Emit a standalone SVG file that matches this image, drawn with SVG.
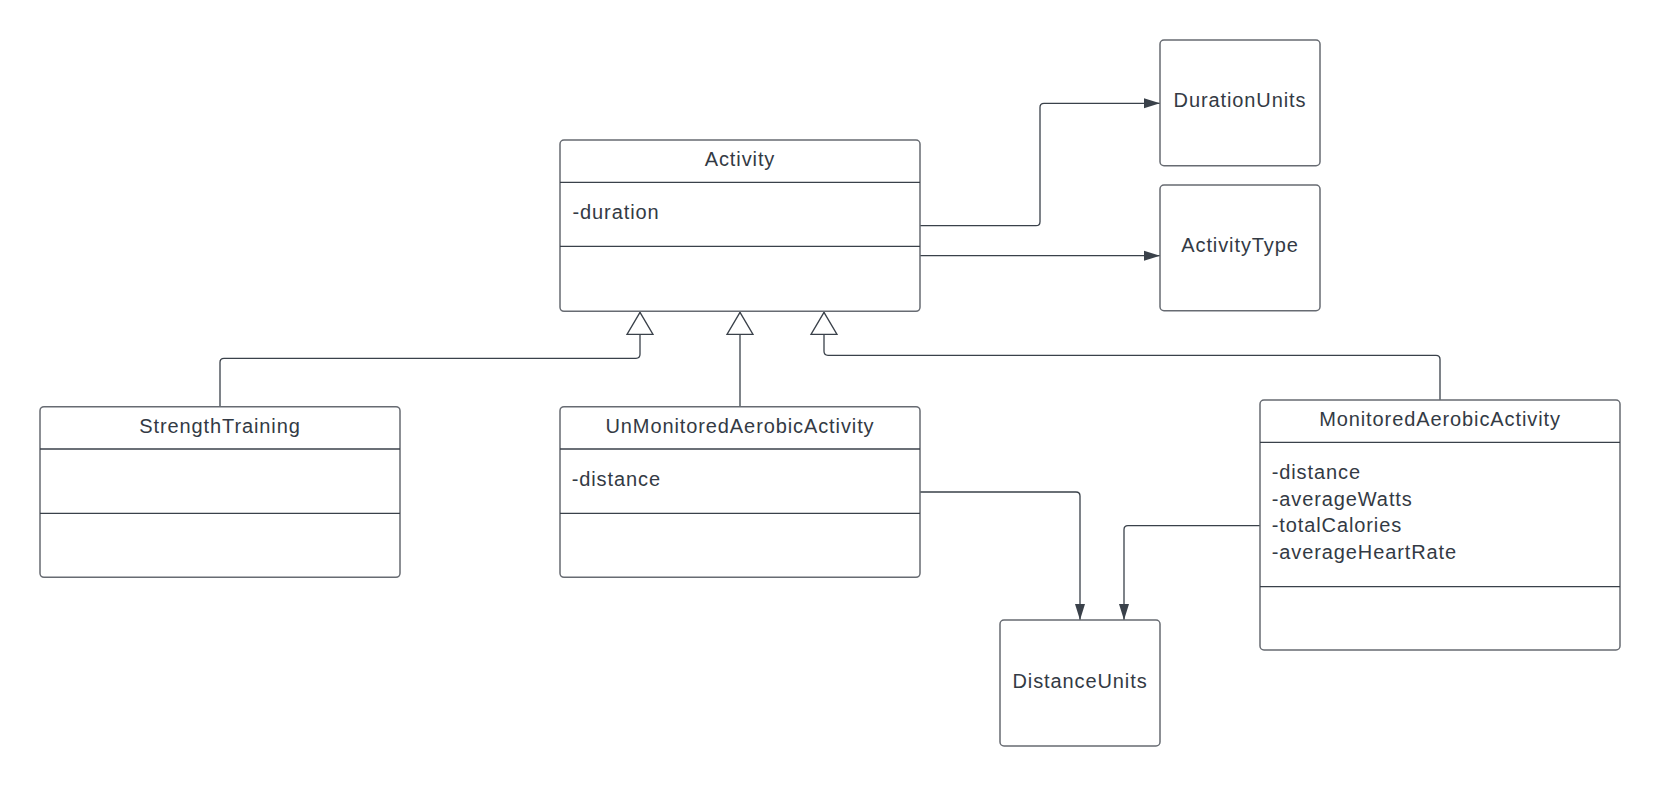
<svg xmlns="http://www.w3.org/2000/svg" width="1660" height="786" viewBox="0 0 1660 786">
<style>
.box{fill:#ffffff;stroke:#676b72;stroke-width:1.5}
.div{stroke:#3a414a;stroke-width:1.3}
.t{font-family:"Liberation Sans",Arial,sans-serif;font-size:20px;fill:#333a44;letter-spacing:0.9px}
.c{text-anchor:middle}
.con{fill:none;stroke:#3a414a;stroke-width:1.3}
</style>
<defs>
<marker id="gen" viewBox="0 0 22 26" refX="22" refY="13" markerWidth="22" markerHeight="26" markerUnits="userSpaceOnUse" orient="auto" overflow="visible">
<path d="M0,0 L22,13 L0,26 Z" fill="#ffffff" stroke="#3a414a" stroke-width="1.3"/>
</marker>
<marker id="arr" viewBox="0 0 16 10" refX="16" refY="5" markerWidth="16" markerHeight="10" markerUnits="userSpaceOnUse" orient="auto" overflow="visible">
<path d="M0,0 L16,5 L0,10 Z" fill="#3a414a"/>
</marker>
</defs>
<rect width="1660" height="786" fill="#ffffff"/>
<g id="connectors">
<path class="con" d="M920,225.7 H1036 Q1040,225.7 1040,221.7 V107.3 Q1040,103.3 1044,103.3 H1160" marker-end="url(#arr)"/>
<path class="con" d="M920,255.7 H1160" marker-end="url(#arr)"/>
<path class="con" d="M920,492 H1076 Q1080,492 1080,496 V620" marker-end="url(#arr)"/>
<path class="con" d="M1260,525.7 H1128 Q1124,525.7 1124,529.7 V620" marker-end="url(#arr)"/>
<path class="con" d="M220,406.7 V362.3 Q220,358.3 224,358.3 H636 Q640,358.3 640,354.3 V312.3" marker-end="url(#gen)"/>
<path class="con" d="M740,406.7 V312.3" marker-end="url(#gen)"/>
<path class="con" d="M1440,400 V359.3 Q1440,355.3 1436,355.3 H828 Q824,355.3 824,351.3 V312.3" marker-end="url(#gen)"/>
</g>
<g id="activity">
<rect class="box" x="560" y="140" width="360" height="171.3" rx="4"/>
<line class="div" x1="560" y1="182.3" x2="920" y2="182.3"/>
<line class="div" x1="560" y1="246.3" x2="920" y2="246.3"/>
<text class="t c" x="740" y="166">Activity</text>
<text class="t" x="572.5" y="219">-duration</text>
</g>
<g id="durationUnits">
<rect class="box" x="1160" y="40" width="160" height="125.7" rx="4"/>
<text class="t c" x="1240" y="107">DurationUnits</text>
</g>
<g id="activityType">
<rect class="box" x="1160" y="185" width="160" height="125.7" rx="4"/>
<text class="t c" x="1240" y="252">ActivityType</text>
</g>
<g id="strengthTraining">
<rect class="box" x="40" y="406.7" width="360" height="170.6" rx="4"/>
<line class="div" x1="40" y1="449" x2="400" y2="449"/>
<line class="div" x1="40" y1="513.3" x2="400" y2="513.3"/>
<text class="t c" x="220" y="432.7">StrengthTraining</text>
</g>
<g id="unMonitoredAerobicActivity">
<rect class="box" x="560" y="406.7" width="360" height="170.6" rx="4"/>
<line class="div" x1="560" y1="449" x2="920" y2="449"/>
<line class="div" x1="560" y1="513.3" x2="920" y2="513.3"/>
<text class="t c" x="740" y="432.7">UnMonitoredAerobicActivity</text>
<text class="t" x="571.7" y="485.7">-distance</text>
</g>
<g id="monitoredAerobicActivity">
<rect class="box" x="1260" y="400" width="360" height="250" rx="4"/>
<line class="div" x1="1260" y1="442.3" x2="1620" y2="442.3"/>
<line class="div" x1="1260" y1="586.7" x2="1620" y2="586.7"/>
<text class="t c" x="1440" y="425.7">MonitoredAerobicActivity</text>
<text class="t" x="1271.7" y="479">-distance</text>
<text class="t" x="1271.7" y="505.5">-averageWatts</text>
<text class="t" x="1271.7" y="532">-totalCalories</text>
<text class="t" x="1271.7" y="558.7">-averageHeartRate</text>
</g>
<g id="distanceUnits">
<rect class="box" x="1000" y="620" width="160" height="126" rx="4"/>
<text class="t c" x="1080" y="688">DistanceUnits</text>
</g>
</svg>
